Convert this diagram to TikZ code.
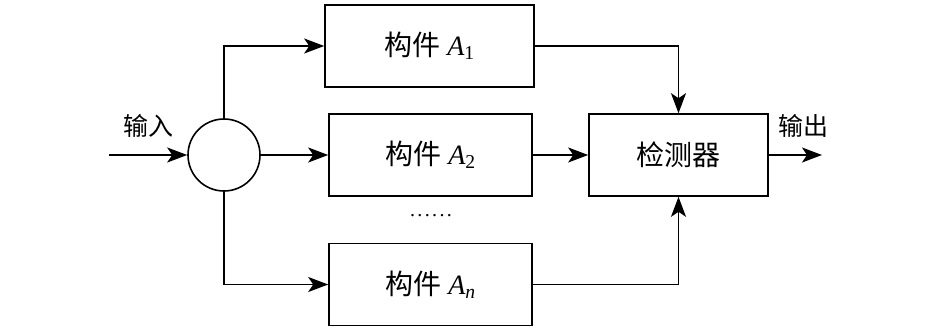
\documentclass[tikz,border=0pt]{standalone}
\usepackage{fontspec}
\setmainfont{Liberation Serif}
\newfontfamily\cjk{Noto Sans CJK SC}[Scale=1]
\usetikzlibrary{arrows.meta}
\newcommand{\mydot}{.\hspace{2.4pt}}
\begin{document}
\begin{tikzpicture}[x=1pt,y=-1pt,
  line width=1.6pt,
  box/.style={draw,line width=1.6pt,minimum width=205pt,minimum height=82pt,inner sep=0pt,font=\fontsize{28}{31}\selectfont},
  arr/.style={-{Stealth[length=20pt,width=15pt,inset=5pt]}},
  lbl/.style={font=\fontsize{25}{28}\selectfont\cjk,inner sep=0pt}]
\useasboundingbox (0,0) rectangle (946,329);
\node[draw,circle,minimum size=72pt,inner sep=0pt,line width=1.6pt] (c) at (224,155) {};
\node[box,minimum width=209pt] (a1) at (429.5,46) {{\cjk 构件} \textit{A}\textsubscript{1}};
\node[box,minimum width=203pt] (a2) at (430.5,155) {{\cjk 构件} \textit{A}\textsubscript{2}};
\node[box,minimum width=203pt] (an) at (430.5,284.5) {{\cjk 构件} \textit{A}\textsubscript{\textit{n}}};
\node[box,minimum width=179pt,font=\fontsize{28}{31}\selectfont\cjk] (d) at (678.5,155) {检测器};
\coordinate (in) at (109,155);
\coordinate (out) at (822,155);
\node[lbl] (lin) at (148,126) {输入};
\node[lbl] (lout) at (803,126) {输出};
\node[font=\fontsize{20}{24}\selectfont,inner sep=0pt] (dots) at (431,216) {\mydot\mydot\mydot\mydot\mydot.};
\draw[arr] (in) -- (c.west);
\draw[arr] (c.north) |- (a1.west);
\draw[arr] (c.east) -- (a2.west);
\draw[arr] (c.south) |- (an.west);
\draw[arr] (a1.east) -| (d.north);
\draw[arr] (a2.east) -- (d.west);
\draw[arr] (an.east) -| (d.south);
\draw[arr] (d.east) -- (out);
\end{tikzpicture}
\end{document}
